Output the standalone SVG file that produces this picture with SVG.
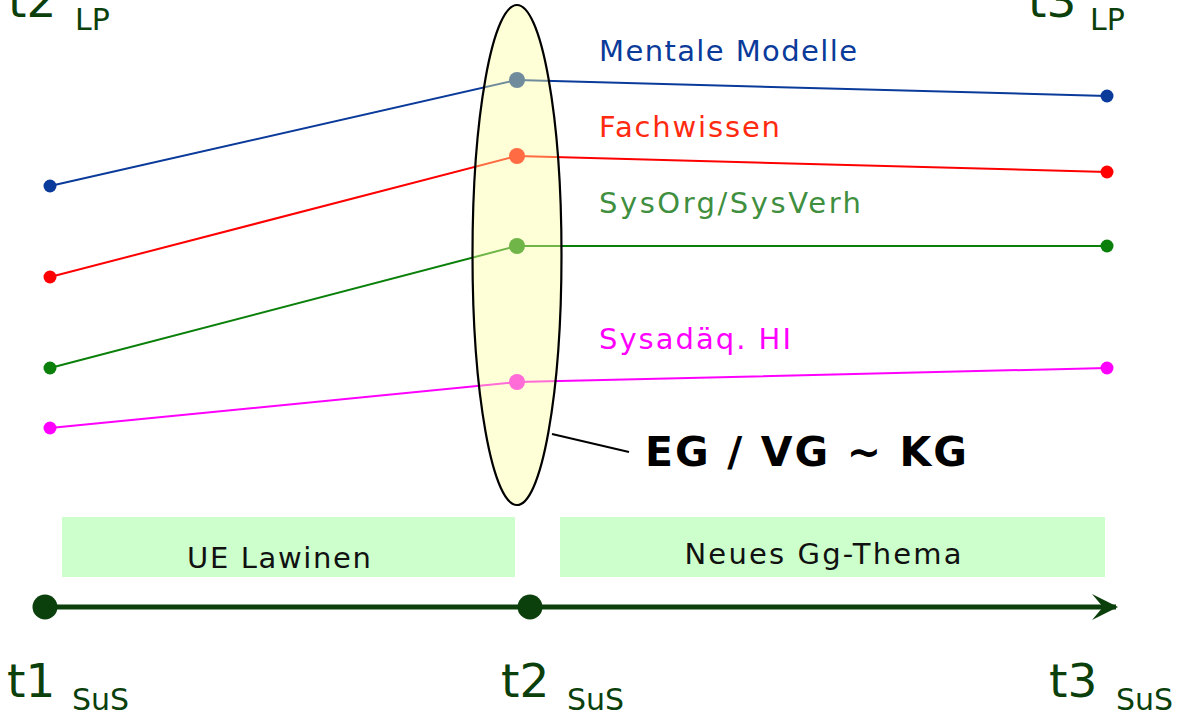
<svg xmlns="http://www.w3.org/2000/svg" width="1186" height="716" viewBox="0 0 1186 716">
  <style>
    text { font-family: "DejaVu Sans", Verdana, sans-serif; }
    .time { fill: #0b3f0b; font-size: 47px; }
    .sub { fill: #0b3f0b; font-size: 30px; }
    .lbl { font-size: 29px; }
    .bar { fill: #ccffcc; }
    .bartxt { font-size: 29px; fill: #111; text-anchor: middle; }
  </style>
  <defs>
    <marker id="arrow" viewBox="0 0 26 28" refX="24" refY="14" markerWidth="26" markerHeight="28" markerUnits="userSpaceOnUse" orient="auto">
      <path d="M0,1 L26,14 L0,27 L11,14 Z" fill="#0b3f0b"/>
    </marker>
  </defs>

  <!-- time labels -->
  <g id="t2-lp"><text class="time" x="8" y="17">t2</text><text class="sub" x="75" y="30">LP</text></g>
  <g id="t3-lp"><text class="time" x="1028" y="17">t3</text><text class="sub" x="1090" y="30">LP</text></g>

  <!-- connectors: competence lines -->
  <g id="connectors" fill="none" stroke-width="2">
    <polyline points="50,186 517,80 1107,96" stroke="#0a3a9a"/>
    <polyline points="50,277 517,156 1107,172" stroke="#ff0000"/>
    <polyline points="50,368 517,246 1107,246" stroke="#0a800a"/>
    <polyline points="50,428 517,382 1107,368" stroke="#ff00ff"/>
    <line x1="552" y1="434" x2="629" y2="452" stroke="#000"/>
  </g>

  <g id="dots">
    <circle cx="50" cy="186" r="6.5" fill="#0a3a9a"/>
    <circle cx="1107" cy="96" r="6.5" fill="#0a3a9a"/>
    <circle cx="50" cy="277" r="6.5" fill="#ff0000"/>
    <circle cx="1107" cy="172" r="6.5" fill="#ff0000"/>
    <circle cx="50" cy="368" r="6.5" fill="#0a800a"/>
    <circle cx="1107" cy="246" r="6.5" fill="#0a800a"/>
    <circle cx="50" cy="428" r="6.5" fill="#ff00ff"/>
    <circle cx="1107" cy="368" r="6.5" fill="#ff00ff"/>
    <circle cx="517" cy="80" r="8" fill="#0a3a9a"/>
    <circle cx="517" cy="156" r="8" fill="#ff0000"/>
    <circle cx="517" cy="246" r="8" fill="#0a800a"/>
    <circle cx="517" cy="382" r="8" fill="#ff00ff"/>
  </g>

  <!-- translucent grouping ellipse -->
  <g id="group-ellipse">
    <ellipse cx="517" cy="255" rx="44.5" ry="250" fill="#ffffa0" fill-opacity="0.42" stroke="#000" stroke-width="2.2"/>
  </g>

  <g id="labels">
    <text class="lbl" x="599" y="61" fill="#0a3a9a" textLength="258" lengthAdjust="spacing">Mentale Modelle</text>
    <text class="lbl" x="599" y="137" fill="#ff2a10" textLength="181" lengthAdjust="spacing">Fachwissen</text>
    <text class="lbl" x="599" y="213" fill="#3f8f3f" textLength="262" lengthAdjust="spacing">SysOrg/SysVerh</text>
    <text class="lbl" x="599" y="349" fill="#ff00ff" textLength="192" lengthAdjust="spacing">Sysadäq. HI</text>
  </g>

  <g id="eg-vg-kg">
    <text x="645" y="466" font-size="41" font-weight="bold" fill="#000" textLength="322" lengthAdjust="spacing">EG / VG ~ KG</text>
  </g>

  <g id="ue-lawinen">
    <rect class="bar" x="62" y="517" width="453" height="60"/>
    <text class="bartxt" x="279" y="568" textLength="184" lengthAdjust="spacing">UE Lawinen</text>
  </g>
  <g id="neues-thema">
    <rect class="bar" x="560" y="517" width="545" height="60"/>
    <text class="bartxt" x="823" y="564" textLength="277" lengthAdjust="spacing">Neues Gg-Thema</text>
  </g>

  <!-- timeline -->
  <g id="timeline">
    <line x1="45" y1="607" x2="1116" y2="607" stroke="#0b3f0b" stroke-width="5" marker-end="url(#arrow)"/>
    <circle cx="45" cy="607" r="12.5" fill="#0b3f0b"/>
    <circle cx="530" cy="607" r="12.5" fill="#0b3f0b"/>
  </g>

  <g id="t1-sus"><text class="time" x="7" y="697">t1</text><text class="sub" x="72" y="710">SuS</text></g>
  <g id="t2-sus"><text class="time" x="501" y="697">t2</text><text class="sub" x="567" y="710">SuS</text></g>
  <g id="t3-sus"><text class="time" x="1049" y="697">t3</text><text class="sub" x="1116" y="710">SuS</text></g>
</svg>
